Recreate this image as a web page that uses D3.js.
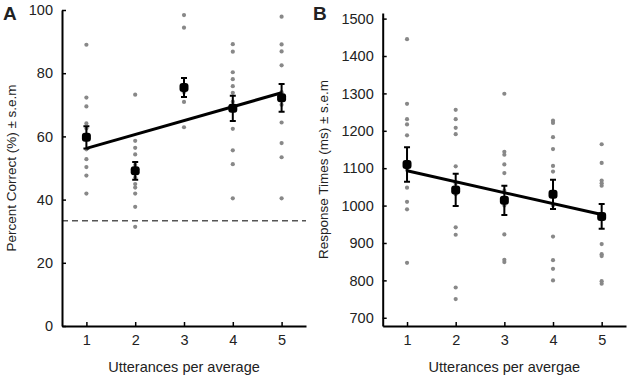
<!DOCTYPE html>
<html>
<head>
<meta charset="utf-8">
<script src="https://cdn.jsdelivr.net/npm/d3@7"></script>
<style>
  body { margin: 0; background: #fff; }
  svg text { font-family: "Liberation Sans", Arial, sans-serif; fill: #222; }
</style>
</head>
<body>
<svg id="chart" width="630" height="379"></svg>
<script>
// x positions (utterances per average)
const utterances = [1, 2, 3, 4, 5]

// panel A : percent correct, one list of subjects per x
const accDots = [
  [89, 72.3, 69.5, 64.1, 62.5, 55.9, 52.8, 50.3, 47.6, 41.9],
  [73.2, 58.6, 56.4, 54.3, 51, 47, 44.9, 43.8, 41.9, 37.7, 31.4],
  [98.4, 94.4, 76, 74, 70.9, 62.9],
  [89.2, 86.8, 80.3, 78.1, 75.9, 73.8, 71, 62.4, 55.6, 51.2, 40.4],
  [97.9, 89.1, 86.9, 82.5, 74, 70, 64.4, 57.9, 53.4, 40.4]
]
const accMean = [59.7, 49.1, 75.5, 68.9, 72.2]
const accSem = [3.5, 2.8, 3.0, 4.0, 4.4]
const accFit = [56.2, 73.8]   // fitted line at x = 1 and x = 5
const chance = 33.3
const accTicks = [0, 20, 40, 60, 80, 100]

// panel B : response times
const rtDots = [
  [1445, 1272, 1231, 1217, 1188, 1095, 1048, 1010, 990, 847],
  [1256, 1231, 1208, 1191, 1105, 1060, 1030, 942, 922, 781, 750],
  [1299, 1144, 1136, 1110, 1087, 1040, 1000, 923, 855, 849],
  [1227, 1221, 1183, 1151, 1106, 1091, 1000, 917, 854, 831, 800],
  [1164, 1114, 1067, 1060, 1053, 897, 870, 865, 798, 791]
]
const rtMean = [1110, 1042, 1014, 1030, 971]
const rtSem = [46, 43, 39, 39, 33]
const rtFit = [1093, 976]
const rtTicks = [700, 800, 900, 1000, 1100, 1200, 1300, 1400, 1500]

const svg = d3.select('#chart')

/**
 * Draws one panel (axes, subject dots, mean +- sem, fit line).
 */
function drawPanel (opt) {
  const x = d3.scaleLinear().domain([0.5, 5.5]).range([opt.left, opt.right])
  const y = d3.scaleLinear().domain(opt.yDomain).range([326, opt.top])
  const g = svg.append('g')

  // chance level
  if (opt.chance !== undefined) {
    g.append('line')
      .attr('x1', opt.left).attr('x2', opt.right)
      .attr('y1', y(opt.chance)).attr('y2', y(opt.chance))
      .attr('stroke', '#555')
      .attr('stroke-width', 1.3)
      .attr('stroke-dasharray', '6,4')
  }

  // subject dots
  opt.dots.forEach((col, i) => {
    g.selectAll(null)
      .data(col)
      .enter()
      .append('circle')
      .attr('cx', x(utterances[i]))
      .attr('cy', d => y(d))
      .attr('r', 2.1)
      .attr('fill', '#888')
  })

  // fit line
  g.append('line')
    .attr('x1', x(utterances[0])).attr('y1', y(opt.fit[0]))
    .attr('x2', x(utterances[4])).attr('y2', y(opt.fit[1]))
    .attr('stroke', '#000')
    .attr('stroke-width', 3)

  // error bars
  const CAP = 3
  utterances.forEach((u, i) => {
    const cx = x(u)
    const hi = y(opt.mean[i] + opt.sem[i])
    const lo = y(opt.mean[i] - opt.sem[i])
    g.append('path')
      .attr('d', `M${cx},${hi}V${lo}M${cx - CAP},${hi}H${cx + CAP}M${cx - CAP},${lo}H${cx + CAP}`)
      .attr('stroke', '#000')
      .attr('stroke-width', 2)
      .attr('fill', 'none')
  })

  // means
  g.selectAll(null)
    .data(opt.mean)
    .enter()
    .append('rect')
    .attr('x', (d, i) => x(utterances[i]) - 4.5)
    .attr('y', d => y(d) - 4.5)
    .attr('width', 9).attr('height', 9)
    .attr('rx', 3)
    .attr('fill', '#000')

  // axes
  const fmt = d3.format('d')
  const xAxis = g.append('g')
    .attr('transform', 'translate(0,326)')
    .call(d3.axisBottom(x).tickValues(utterances).tickFormat(fmt)
      .tickSizeInner(-4).tickSizeOuter(0).tickPadding(9))
  const yAxis = g.append('g')
    .attr('transform', `translate(${opt.left},0)`)
    .call(d3.axisLeft(y).tickValues(opt.ticks).tickFormat(fmt)
      .tickSizeInner(-4).tickSizeOuter(0).tickPadding(9))

  ;[xAxis, yAxis].forEach(a => {
    a.select('.domain').attr('stroke', '#000').attr('stroke-width', 2)
    a.selectAll('.tick line').attr('stroke', '#000').attr('stroke-width', 1.5)
    a.selectAll('.tick text').attr('font-size', 14.5).attr('fill', '#222')
      .attr('font-family', '"Liberation Sans", Arial, sans-serif')
  })

  // axis labels
  g.append('text')
    .attr('x', (opt.left + opt.right) / 2)
    .attr('y', 372)
    .attr('text-anchor', 'middle')
    .attr('font-size', 14.5)
    .text(opt.xLabel)

  g.append('text')
    .attr('transform', `translate(${opt.yLabelX}, ${(326 + opt.top) / 2}) rotate(-90)`)
    .attr('text-anchor', 'middle')
    .attr('font-size', 13.5)
    .text(opt.yLabel)

  // panel letter
  g.append('text')
    .attr('x', opt.letterX)
    .attr('y', 20)
    .attr('font-size', 19)
    .attr('font-weight', 'bold')
    .attr('fill', '#000')
    .text(opt.letter)
}

drawPanel({
  left: 62, right: 306, top: 10,
  yDomain: [0, 100], ticks: accTicks,
  dots: accDots, mean: accMean, sem: accSem, fit: accFit,
  chance: chance,
  xLabel: 'Utterances per average',
  yLabel: 'Percent Correct (%) \u00b1 s.e.m',
  yLabelX: 16, letter: 'A', letterX: 3
})

drawPanel({
  left: 382.7, right: 626, top: 13,
  yDomain: [678, 1515], ticks: rtTicks,
  dots: rtDots, mean: rtMean, sem: rtSem, fit: rtFit,
  xLabel: 'Utterances per avergae',
  yLabel: 'Response Times (ms) \u00b1 s.e.m',
  yLabelX: 328, letter: 'B', letterX: 313
})
</script>
</body>
</html>
